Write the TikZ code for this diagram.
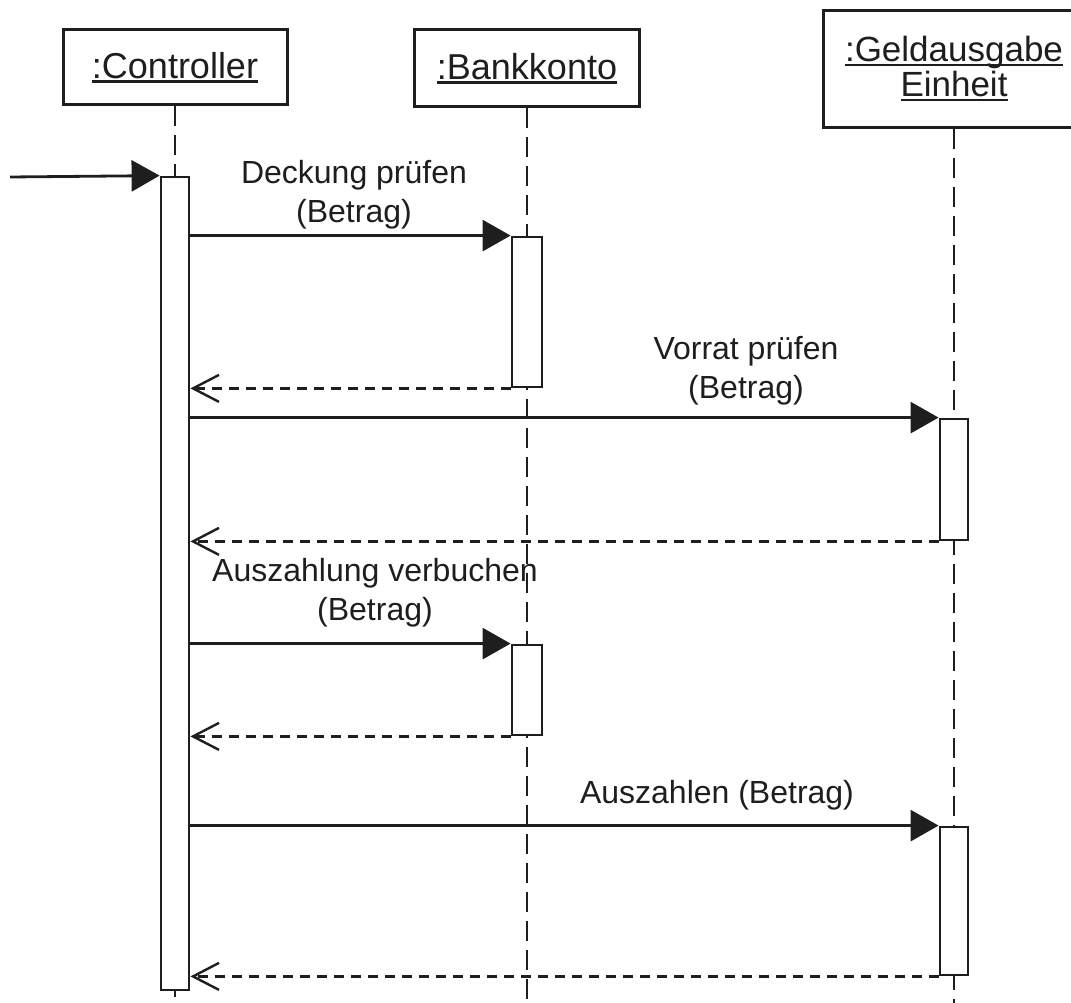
\documentclass[tikz,border=0pt]{standalone}
\usepackage{fontspec}
\setmainfont{Liberation Sans}
\usetikzlibrary{arrows.meta}
\definecolor{ink}{RGB}{30,30,30}
% underlined object name with a heavy rule
\newcommand{\ulbox}[1]{\setbox0\hbox{#1}\leavevmode\rlap{\rule[-4.6pt]{\wd0}{2.6pt}}\box0}

\begin{document}
\begin{tikzpicture}[x=1pt,y=-1pt,
  every node/.style={text=ink},
  objbox/.style={draw=ink, line width=3pt, fill=white, inner sep=0pt,
    font=\fontsize{36}{34}\selectfont, align=center},
  lifeline/.style={draw=ink, line width=2.4pt, dash pattern=on 20pt off 9pt},
  actbox/.style={draw=ink, line width=2.8pt, fill=white, minimum width=28pt, inner sep=0pt},
  call/.style={draw=ink, line width=2.8pt, -{Triangle[length=28pt,width=31pt]}},
  ret/.style={draw=ink, line width=2.4pt, dash pattern=on 10pt off 7pt,
    -{Straight Barb[length=26pt,width=27pt]}},
  msg/.style={font=\fontsize{32}{39}\selectfont, align=center, inner sep=0pt, anchor=south}
]
\useasboundingbox (0,0) rectangle (1071,1003);
\clip (0,0) rectangle (1071,1003);

% object heads
\node[objbox, minimum width=224pt, minimum height=75pt] (ctrl) at (175,67.5) {\ulbox{:Controller}};
\node[objbox, minimum width=225pt, minimum height=77pt] (bank) at (527,68.5) {\ulbox{:Bankkonto}};
\node[objbox, minimum width=262pt, minimum height=117pt, font=\fontsize{35}{35}\selectfont]
  (geld) at (954,69) {\ulbox{:Geldausgabe}\\\ulbox{Einheit}};

% lifelines
\draw[lifeline] (ctrl.south) -- (ctrl.south |- 0,1003);
\draw[lifeline] (bank.south) -- (bank.south |- 0,1003);
\draw[lifeline] (geld.south) -- (geld.south |- 0,1003);

% activation bars
\node[actbox, minimum height=813pt] (ca) at (175,583.5) {};
\node[actbox, minimum width=30pt, minimum height=150pt] (ba1) at (527,312) {};
\node[actbox, minimum width=30pt, minimum height=90pt] (ba2) at (527,690) {};
\node[actbox, minimum height=121pt] (ga1) at (954,479.5) {};
\node[actbox, minimum height=148pt] (ga2) at (954,901) {};

% incoming call
\coordinate (src) at (10,177);
\draw[call] (src) -- (ca.north west);

% calls and returns
\draw[call] (ca.east |- ba1.north) -- (ba1.north west);
\draw[ret] (ba1.south west) -- (ca.east |- ba1.south);
\draw[call] (ca.east |- ga1.north) -- (ga1.north west);
\draw[ret] (ga1.south west) -- (ca.east |- ga1.south);
\draw[call] (ca.east |- ba2.north) -- (ba2.north west);
\draw[ret] (ba2.south west) -- (ca.east |- ba2.south);
\draw[call] (ca.east |- ga2.north) -- (ga2.north west);
\draw[ret] (ga2.south west) -- (ca.east |- ga2.south);

% message labels
\node[msg] (m1) at (354,229) {Deckung prüfen\\(Betrag)};
\node[msg] (m2) at (746,405) {Vorrat prüfen\\(Betrag)};
\node[msg] (m3) at (375,627) {Auszahlung verbuchen\\(Betrag)};
\node[msg] (m4) at (717,810) {Auszahlen (Betrag)};
\end{tikzpicture}
\end{document}
